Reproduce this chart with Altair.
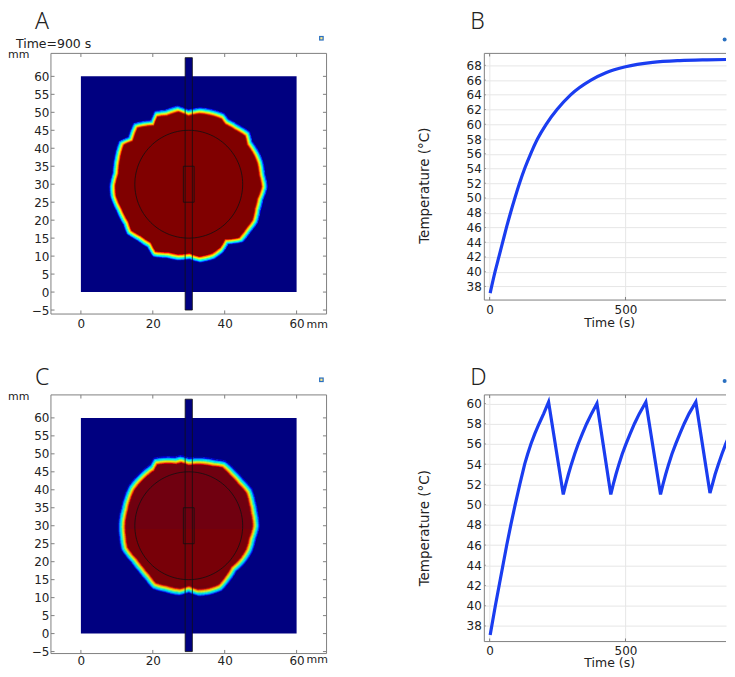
import altair as alt
import numpy as np
import pandas as pd

alt.data_transformers.disable_max_rows()

# ---- values ----
A_BOUND_X = [29.9,33.0,35.8,39.3,40.4,43.2,46.1,46.7,48.7,49.6,50.1,50.8,49.6,48.9,48.2,46.4,44.3,40.4,39.0,36.7,33.0,30.2,27.0,24.2,20.5,19.1,16.4,13.6,12.7,10.8,9.2,9.0,9.9,10.3,11.5,14.0,15.4,20.0,21.0,23.7,27.0]
A_BOUND_Y = [49.6,50.2,49.8,48.7,47.2,45.6,43.8,41.3,38.2,35.9,32.7,29.3,25.8,23.0,19.8,17.4,14.7,14.2,11.9,10.2,9.3,10.2,9.9,10.5,10.8,13.3,15.1,16.8,19.3,23.0,26.7,29.5,33.1,36.8,41.3,42.4,46.1,46.8,49.3,49.6,50.7]
C_BOUND_X = [30,33.1,36.8,39.6,42,44.2,46.5,47.4,47.9,48.4,47.4,46.5,44.7,42.3,40.5,38.6,35.4,32.6,30,27.5,23.8,20.5,18.7,16.8,15,12.4,11.9,11.7,12.4,13.1,14.4,16.8,20,20.9,26.4,27.8]
C_BOUND_Y = [47.5,47.7,47.2,46.8,44.5,42.1,39.5,36.2,33.5,30.0,26.5,23.3,20.5,18.2,15.4,13.1,12.0,11.7,12.7,11.9,12.7,13.6,15.9,18.2,20.5,23.8,27,30.2,34.4,37.2,40.4,43.2,45.9,47.6,47.8,48.2]

B_T = [2,20,34,48,62,77,93,110,129,151,176,208,248,298,373,428,500,600,700,800,900]
B_V = [37.1,40,42,44,46,48,50,52,54,56,58,60,62,64,66,67,67.8,68.4,68.65,68.75,68.8]
D_T = [2,21,35,49,63,78,94,111,129,140,152,166,182,199,217,
       271,280,290,301,313,326,341,357,375,395,
       446,455,465,476,488,502,517,533,551,575,
       629,638,648,659,671,685,700,716,734,759,
       811,820,830,842,855,869,885,900]
D_V = [37.1,40,42,44,46,48,50,52,54,55,56,57,58,59,60.15,
       51,52,53,54,55,56,57,58,59,60,
       51,52,53,54,55,56,57,58,59,60.15,
       51,52,53,54,55,56,57,58,59,60.15,
       51.15,52,53,54,55,56,57,57.9]

MAP_XTICKS = [0,20,40,60]
MAP_YTICKS = list(range(-5,65,5))
B_YTICKS = list(range(38,70,2))
D_YTICKS = list(range(38,62,2))
LINE_XTICKS = [0,500]

JET_STOPS = [0,0.11,0.35,0.5,0.64,0.89,1]
JET_COLS = ["#000080","#0000ff","#00ffff","#7dff7a","#ffff00","#ff0000","#800000"]

FONT = "DejaVu Sans"
GREY = "#808080"
GRID = "#e6e6e6"
TXT = "#222222"
PX = 3.6

def one():
    return alt.Data(values=[{"k":0}])

def label(txt, x, y, size=13, font=FONT, weight=400, align="left", baseline="middle"):
    return alt.Chart(one()).mark_text(text=txt, font=font, fontSize=size, fontWeight=weight, align=align,
                                      baseline=baseline, color=TXT).encode(x=alt.value(x), y=alt.value(y))

def frame(enc_x, enc_y, xdom, ydom, xticks, yticks, right=True, xlen=1, ylen=1):
    rows = []
    for v in xticks:
        rows.append(dict(x=v, x2=v, y=ydom[0], y2=ydom[0]+ylen))
        rows.append(dict(x=v, x2=v, y=ydom[1], y2=ydom[1]-ylen))
    for v in yticks:
        rows.append(dict(x=xdom[0], x2=xdom[0]+xlen, y=v, y2=v))
        if right:
            rows.append(dict(x=xdom[1], x2=xdom[1]-xlen, y=v, y2=v))
    rows.append(dict(x=xdom[0], x2=xdom[1], y=ydom[1], y2=ydom[1]))
    rows.append(dict(x=xdom[0], x2=xdom[1], y=ydom[0], y2=ydom[0]))
    rows.append(dict(x=xdom[0], x2=xdom[0], y=ydom[0], y2=ydom[1]))
    if right:
        rows.append(dict(x=xdom[1], x2=xdom[1], y=ydom[0], y2=ydom[1]))
    return alt.Chart(pd.DataFrame(rows)).mark_rule(color=GREY, strokeWidth=1).encode(
        x=enc_x("x"), x2="x2:Q", y=enc_y("y"), y2="y2:Q")

def field(bx, by, w):
    bx, by = np.array(bx), np.array(by)
    ang = np.arctan2(by-30, bx-30)
    rad = np.hypot(bx-30, by-30)
    order = np.argsort(ang)
    ang, rad = ang[order], rad[order]
    rows = []
    step = 1/PX
    lap = 0.1
    for i in range(int(60*PX)):
        yc = (i+.5)*step
        run = None
        for j in range(int(60*PX)):
            xc = (j+.5)*step
            th = np.arctan2(yc-30, xc-30)
            rb = np.interp(th, ang, rad, period=2*np.pi)
            t = 0.64 + (rb-np.hypot(xc-30, yc-30))/w
            t = round(float(np.clip(t, 0, 1))*40)/40
            if run is not None and run[2] == t:
                run[1] = j+1
            else:
                if run is not None and run[2] > 0:
                    rows.append(dict(x=run[0]*step, x2=run[1]*step+lap, y=i*step, y2=(i+1)*step+lap, t=run[2]))
                run = [j, j+1, t]
        if run is not None and run[2] > 0:
            rows.append(dict(x=run[0]*step, x2=run[1]*step+lap, y=i*step, y2=(i+1)*step+lap, t=run[2]))
    return pd.DataFrame(rows)

def map_panel(letter, bx, by, w, ymin_px, letter_base, mm_y, lab_pad, h, extra=None):
    MX = [-30/PX, 246/PX]
    MY = [-ymin_px/PX, 239/PX]
    xs = alt.Scale(domain=MX, nice=False, zero=False)
    ys = alt.Scale(domain=MY, nice=False, zero=False)
    xa = alt.Axis(values=MAP_XTICKS, grid=False, domain=False, ticks=False, title=None,
            labelFont=FONT, labelFontSize=12, labelColor=TXT, labelPadding=lab_pad, labelFlush=False)
    ya = alt.Axis(values=MAP_YTICKS, grid=False, domain=False, ticks=False, title=None,
            labelFont=FONT, labelFontSize=12, labelColor=TXT, labelPadding=2, labelFlush=False)
    x = lambda f: alt.X(f"{f}:Q", scale=xs, axis=xa)
    y = lambda f: alt.Y(f"{f}:Q", scale=ys, axis=ya)
    fr = frame(x, y, MX, MY, MAP_XTICKS, MAP_YTICKS)
    base = alt.Chart(pd.DataFrame([dict(x=0,x2=60,y=0,y2=60),dict(x=29,x2=31,y=-5,y2=65.2)])).mark_rect(color="#000080").encode(
        x=x("x"), x2="x2:Q", y=y("y"), y2="y2:Q")
    heat = alt.Chart(field(bx, by, w)).mark_rect(strokeWidth=0).encode(
        x=x("x"), x2="x2:Q", y=y("y"), y2="y2:Q",
        color=alt.Color("t:Q", legend=None, scale=alt.Scale(domain=JET_STOPS, range=JET_COLS)))
    probe = alt.Chart(pd.DataFrame([dict(x=29,x2=31,y=-5,y2=65.2),dict(x=28.5,x2=31.5,y=25,y2=35)])).mark_rect(
        fillOpacity=0, stroke="#101010", strokeWidth=0.8).encode(x=x("x"), x2="x2:Q", y=y("y"), y2="y2:Q")
    a = np.linspace(0, 2*np.pi, 121)
    circ = alt.Chart(pd.DataFrame(dict(x=30+15*np.cos(a), y=30+15*np.sin(a), o=np.arange(121)))).mark_line(
        color="#101010", strokeWidth=0.8).encode(x=x("x"), y=y("y"), order="o:Q")
    icon = alt.Chart(pd.DataFrame(dict(x=[66.9], y=[70.6]))).mark_point(shape="square", filled=True, size=22, color="#2a70c0", opacity=1, clip=False).encode(x=x("x"), y=y("y"))
    icon2 = alt.Chart(pd.DataFrame(dict(x=[66.9], y=[70.6]))).mark_point(shape="square", filled=True, size=5, color="#ffe88a", opacity=1, clip=False).encode(x=x("x"), y=y("y"))
    layers = [base, heat, probe, circ, fr, icon, icon2,
              label(letter, -16, letter_base, size=23, font="Noto Sans", weight=300, baseline="alphabetic"),
              label("mm", -43, 2, size=11),
              label("mm", 256, mm_y, size=11)]
    if extra:
        layers.append(label(extra, -35, -9, size=12.5))
    return alt.layer(*layers).properties(width=276, height=h)

def line_panel(letter, ts, vs, ydom, yticks, ytitle_y, letter_base, interp, title_pad, h=247):
    xdom = [-19.5, 870]
    xs = alt.Scale(domain=xdom, nice=False, zero=False)
    ys = alt.Scale(domain=ydom, nice=False, zero=False)
    xa = alt.Axis(values=LINE_XTICKS, grid=True, gridColor=GRID, domain=False, ticks=False,
            title="Time (s)", titleFont=FONT, titleFontSize=12.5, titleFontWeight="normal", titleColor=TXT, titlePadding=title_pad, titleX=125,
            labelFont=FONT, labelFontSize=12, labelColor=TXT, labelPadding=4, labelFlush=False)
    ya = alt.Axis(values=yticks, grid=True, gridColor=GRID, domain=False, ticks=False,
            title="Temperature (°C)", titleFont=FONT, titleFontSize=13.5, titleFontWeight="normal", titleColor=TXT,
            titleX=-53, titleY=ytitle_y, labelFont=FONT, labelFontSize=12, labelColor=TXT, labelPadding=3, labelFlush=False)
    x = lambda f: alt.X(f"{f}:Q", scale=xs, axis=xa)
    y = lambda f: alt.Y(f"{f}:Q", scale=ys, axis=ya)
    fr = frame(x, y, xdom, ydom, LINE_XTICKS, yticks, right=False, xlen=5, ylen=(ydom[1]-ydom[0])/80)
    df = pd.DataFrame(dict(t=ts, v=vs))
    line = alt.Chart(df).mark_line(color="#1a3df0", strokeWidth=3.2, strokeJoin="miter", interpolate=interp, clip=True).encode(x=x("t"), y=y("v"))
    icon = alt.Chart(pd.DataFrame(dict(t=[865], v=[ydom[1] + (ydom[1]-ydom[0])/h*14]))).mark_point(
        shape="circle", filled=True, size=16, color="#2a70c0", opacity=1, clip=False).encode(x=x("t"), y=y("v"))
    return alt.layer(line, fr, icon, label(letter, -14, letter_base, size=23, font="Noto Sans", weight=300, baseline="alphabetic")).properties(width=242, height=h)

A = map_panel("A", A_BOUND_X, A_BOUND_Y, 1.9, 22, -24, 272, 4, 261, extra="Time=900 s")
C = map_panel("C", C_BOUND_X, C_BOUND_Y, 2.2, 20, -10, 265, 2, 259)
B = line_panel("B", B_T, B_V, [36.15, 69.62], B_YTICKS, 132, -24, "monotone", 1)
D = line_panel("D", D_T, D_V, [36.45, 60.85], D_YTICKS, 133, -10, "linear", 0)

chart = alt.concat(A, B, C, D, columns=2, spacing=alt.RowColnumber(column=158, row=81), bounds="flush").properties(
    padding={"left":0,"top":3,"right":0,"bottom":-2}).configure_view(stroke=None)
chart.save("out.html", embed_options={"renderer": "svg", "actions": False})
